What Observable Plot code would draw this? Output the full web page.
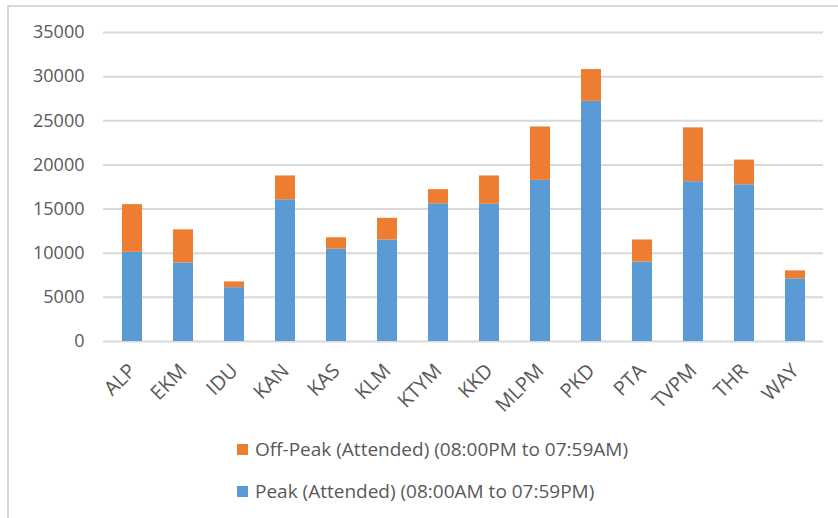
<!DOCTYPE html>
<html>
<head>
<meta charset="utf-8">
<script src="https://cdn.jsdelivr.net/npm/d3@7"></script>
<script src="https://cdn.jsdelivr.net/npm/@observablehq/plot@0.6"></script>
<style>
  html, body { margin: 0; padding: 0; background: #fff; }
  #frame { position: relative; width: 838px; height: 518px; overflow: hidden; font-family: "Open Sans", sans-serif; color: #595959; }
  #edge { position: absolute; left: 7px; top: 5px; width: 900px; height: 600px; border-left: 2px solid #d9d9d9; border-top: 2px solid #d9d9d9; box-sizing: border-box; }
  #chart { position: absolute; left: 0; top: 0; }
  #legend { position: absolute; left: 237px; top: 428px; font-size: 19px; }
  .item { display: flex; align-items: center; height: 42px; }
  .sw { width: 11px; height: 11px; margin-right: 7px; }
  .xt text { font-size: 20px; }
</style>
</head>
<body>
<div id="frame">
  <div id="edge"></div>
  <div id="chart"></div>
  <div id="legend"></div>
</div>
<script>
// District codes along the x axis
const districts = ["ALP", "EKM", "IDU", "KAN", "KAS", "KLM", "KTYM", "KKD", "MLPM", "PKD", "PTA", "TVPM", "THR", "WAY"];
// Attended calls in peak hours (08:00AM to 07:59PM)
const peak = [10100, 8900, 6100, 16050, 10450, 11500, 15600, 15550, 18250, 27200, 9000, 18100, 17750, 7100];
// Attended calls in off-peak hours (08:00PM to 07:59AM)
const offPeak = [5400, 3750, 650, 2700, 1300, 2450, 1600, 3200, 6050, 3600, 2500, 6100, 2800, 900];
// Series names, bottom segment first
const seriesNames = ["Peak (Attended) (08:00AM to 07:59PM)", "Off-Peak (Attended) (08:00PM to 07:59AM)"];
const seriesColors = ["#5b9bd5", "#ed7d31"];
// Value axis ticks
const yTicks = [0, 5000, 10000, 15000, 20000, 25000, 30000, 35000];

const rows = [
  ...districts.map((d, i) => ({district: d, series: seriesNames[0], value: peak[i]})),
  ...districts.map((d, i) => ({district: d, series: seriesNames[1], value: offPeak[i]}))
];

const chart = Plot.plot({
  width: 838,
  height: 426,
  marginLeft: 103,
  marginRight: 15,
  marginTop: 32,
  marginBottom: 85,
  style: {fontFamily: "Open Sans, sans-serif", fontSize: "18px", color: "#595959", background: "transparent"},
  x: {domain: districts, paddingInner: 0.61, paddingOuter: 0.305, label: null, axis: null},
  y: {domain: [0, 35000], ticks: yTicks, tickFormat: d => String(d), label: null, tickSize: 0, tickPadding: 19},
  color: {domain: seriesNames, range: seriesColors},
  marks: [
    Plot.ruleY(yTicks, {stroke: "#d9d9d9", strokeWidth: 2}),
    Plot.barY(rows, Plot.stackY({x: "district", y: "value", fill: "series", order: seriesNames})),
    Plot.axisX({className: "xt", tickSize: 0, tickPadding: 26, tickRotate: -45, label: null})
  ]
});
document.getElementById("chart").appendChild(chart);

// Legend: off-peak listed first, then peak
const legend = document.getElementById("legend");
[1, 0].forEach(i => {
  const item = document.createElement("div");
  item.className = "item";
  const sw = document.createElement("span");
  sw.className = "sw";
  sw.style.background = seriesColors[i];
  const label = document.createElement("span");
  label.textContent = seriesNames[i];
  item.appendChild(sw);
  item.appendChild(label);
  legend.appendChild(item);
});
</script>
</body>
</html>
